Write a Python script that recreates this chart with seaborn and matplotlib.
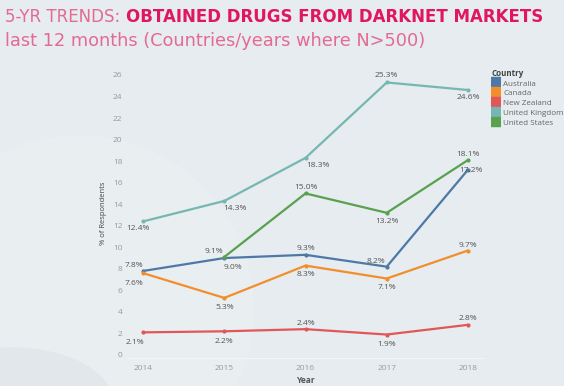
import matplotlib
matplotlib.use("Agg")
import matplotlib.pyplot as plt
from matplotlib.patches import Ellipse
import numpy as np
import pandas as pd
import seaborn as sns

years = [2014, 2015, 2016, 2017, 2018]
countries = ["Australia", "Canada", "New Zealand", "United Kingdom", "United States"]
australia = [7.8, 9.0, 9.3, 8.2, 17.2]
canada = [7.6, 5.3, 8.3, 7.1, 9.7]
new_zealand = [2.1, 2.2, 2.4, 1.9, 2.8]
united_kingdom = [12.4, 14.3, 18.3, 25.3, 24.6]
united_states = [np.nan, 9.1, 15.0, 13.2, 18.1]
y_ticks = [0, 2, 4, 6, 8, 10, 12, 14, 16, 18, 20, 22, 24, 26]

series = [australia, canada, new_zealand, united_kingdom, united_states]
colors = ["#4e79a7", "#f28e2b", "#e15759", "#76b7b2", "#59a14f"]

# label offsets in pixels (dx, dy) for each point, per country
offsets = {
    "Australia": [(-9, 5), (9, -9), (0, 6), (-11, 5), (3, -1)],
    "Canada": [(-9, -10), (0, -10), (0, -9), (0, -9), (0, 5)],
    "New Zealand": [(-8, -10), (0, -10), (0, 6), (0, -10), (0, 6)],
    "United Kingdom": [(-5, -7), (11, -8), (12, -8), (0, 7), (0, -7)],
    "United States": [(0, 0), (-10, 5), (0, 6), (0, -9), (0, 6)],
}

rows = []
for c, vals in zip(countries, series):
    for y, v in zip(years, vals):
        rows.append({"Year": y, "Country": c, "value": v})
df = pd.DataFrame(rows)

bg = "#e6ecef"
sns.set_theme(style="white")
plt.rcParams["font.family"] = ["Open Sans", "DejaVu Sans"]

fig = plt.figure(figsize=(5.64, 3.86), dpi=100, facecolor=bg)

# faint decorative circles in the background
fig.patches.append(Ellipse((0.14, 0.20), 0.62, 0.9, transform=fig.transFigure,
                           facecolor="#e9eef1", edgecolor="none", zorder=-10))
fig.patches.append(Ellipse((0.02, -0.04), 0.36, 0.28, transform=fig.transFigure,
                           facecolor="#e1e7eb", edgecolor="none", zorder=-9))

ax = fig.add_axes([0.227, 0.070, 0.633, 0.754])
ax.set_facecolor("none")

sns.lineplot(data=df, x="Year", y="value", hue="Country", palette=colors,
             marker="o", markersize=3, markeredgewidth=0, linewidth=1.6, ax=ax)

for c, vals, col in zip(countries, series, colors):
    for y, v, (dx, dy) in zip(years, vals, offsets[c]):
        if np.isnan(v):
            continue
        ax.annotate(f"{v:.1f}%", (y, v), xytext=(dx, dy), textcoords="offset pixels",
                    ha="center", va="center", fontsize=6, color="#555555")

ax.set_xlim(2013.815, 2018.21)
ax.set_ylim(-0.37, 26.65)
ax.set_xticks(years)
ax.set_yticks(y_ticks)
ax.tick_params(axis="both", labelsize=6, colors="#9a9a9a", length=0, pad=4)
for s in ax.spines.values():
    s.set_visible(False)
ax.axhline(-0.37, color="#f2f5f7", linewidth=1.5)
ax.set_xlabel("Year", fontsize=6, color="#555555", fontweight="bold", labelpad=3)
ax.set_ylabel("% of Respondents", fontsize=5.5, color="#444444", labelpad=4)

leg = ax.legend(title="Country", loc="upper left", bbox_to_anchor=(0.871, 0.822),
                bbox_transform=fig.transFigure, frameon=False, fontsize=5.8,
                title_fontsize=5.8, handlelength=1.15, handleheight=0.95,
                handletextpad=0.35, labelspacing=0.2, borderaxespad=0,
                borderpad=0)
leg._legend_box.align = "left"
leg.get_title().set_color("#444444")
leg.get_title().set_fontweight("bold")
for t in leg.get_texts():
    t.set_color("#666666")
for h, col in zip(leg.legend_handles, colors):
    h.set_linewidth(7.5)
    h.set_marker("")
    h.set_solid_capstyle("butt")

# title block
tfam = ["DejaVu Sans"]
t1 = fig.text(0.009, 0.955, "5-YR TRENDS: ", fontsize=12, color="#e46a92",
              va="center", ha="left", family=tfam)
fig.canvas.draw()
bb = t1.get_window_extent()
x2 = bb.x1 / fig.bbox.width
fig.text(x2, 0.955, "OBTAINED DRUGS FROM DARKNET MARKETS", fontsize=12,
         color="#e0175f", fontweight="semibold", va="center", ha="left",
         family=tfam)
fig.text(0.009, 0.895, "last 12 months (Countries/years where N>500)", fontsize=12.8,
         color="#e46a92", va="center", ha="left", family=tfam)

fig.savefig("out.png", dpi=100, facecolor=bg)
